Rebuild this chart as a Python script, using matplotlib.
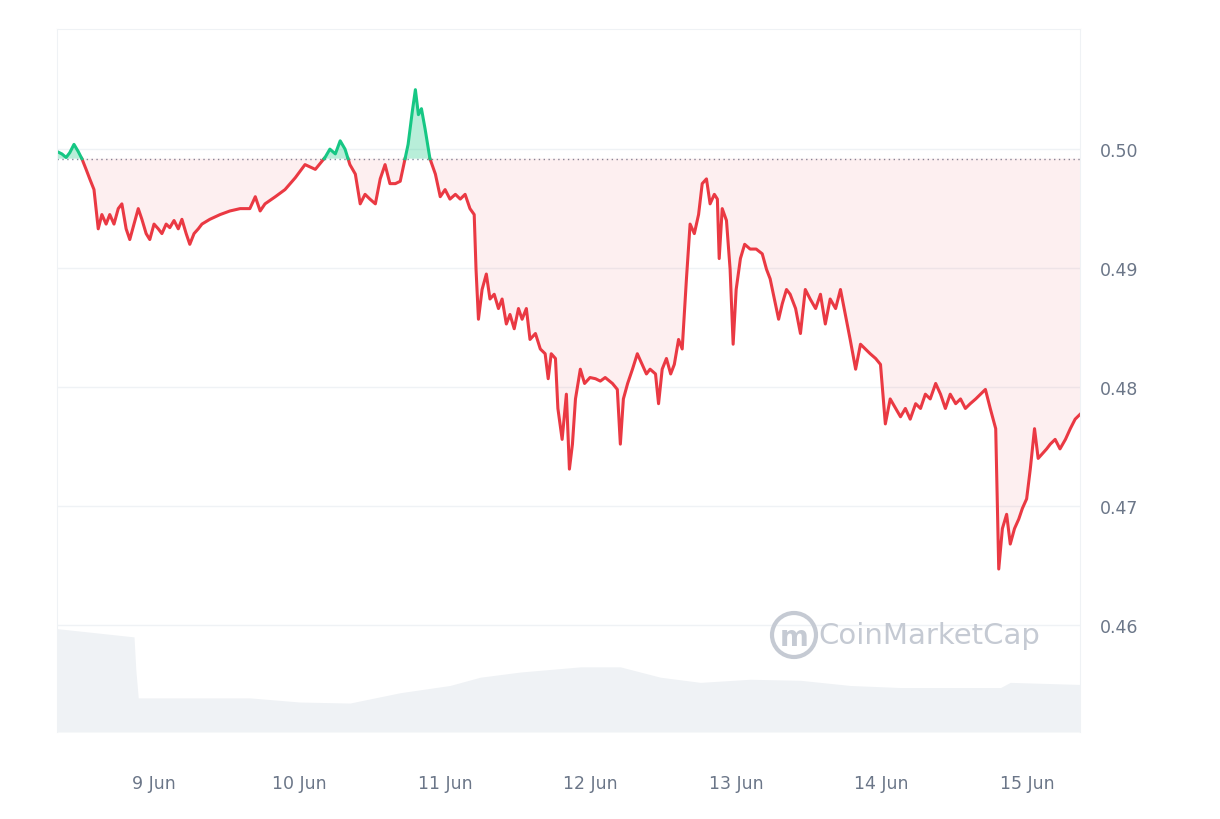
import matplotlib
matplotlib.use("Agg")
import matplotlib.pyplot as plt
from matplotlib.patches import Ellipse
import numpy as np

# hours since 8 Jun 08:00
hours = [0,0.8,1.5,2.1,2.8,3.5,4.1,4.8,5.4,6.1,6.8,7.4,8.1,8.7,9.4,10.1,10.7,11.4,12.0,12.7,13.4,14.0,14.7,15.3,16.0,16.7,17.3,18.0,18.6,19.3,20.0,20.6,21.3,21.9,22.6,23.3,23.9,25.2,26.9,28.5,30.2,31.8,32.7,33.5,34.3,36.0,37.6,39.3,40.9,42.6,44.2,45.0,45.9,46.7,47.5,48.3,49.2,50.0,50.8,51.6,52.5,53.3,54.1,54.9,55.8,56.6,57.4,57.9,58.6,59.1,59.6,60.1,60.7,61.5,62.4,63.2,64.0,64.8,65.7,66.5,67.3,68.1,68.8,69.1,69.5,70.1,70.8,71.4,72.1,72.8,73.4,74.1,74.7,75.4,76.1,76.7,77.4,78.0,78.9,79.7,80.5,81.0,81.5,82.2,82.6,83.3,84.0,84.5,85.0,85.5,86.3,87.0,87.9,88.8,89.6,90.4,91.6,92.4,92.9,93.4,94.1,94.9,95.7,96.5,97.2,97.8,98.7,99.2,99.8,100.5,101.2,101.8,102.5,103.1,103.8,104.4,105.1,105.8,106.4,107.1,107.7,108.4,108.9,109.2,109.7,110.4,111.0,111.5,112.0,112.7,113.4,114.3,115.3,116.3,117.0,117.6,118.3,119.0,119.6,120.3,120.9,121.8,122.6,123.4,124.2,125.1,125.9,126.7,127.5,128.4,129.2,130.0,130.8,131.7,132.5,133.3,134.1,135.0,135.8,136.6,137.4,138.3,139.1,139.9,140.7,141.6,142.4,143.2,144.0,144.9,145.7,146.5,147.3,148.2,149.0,149.8,150.6,151.5,152.3,153.1,153.9,154.8,155.3,155.9,156.6,157.2,157.9,158.6,159.2,159.9,160.5,161.2,161.8,162.5,163.2,163.8,164.6,165.4,166.3,167.1,167.9,168.7]
prices = [.4998,.4996,.4993,.4997,.5004,.4998,.4992,.4983,.4975,.4966,.4933,.4945,.4937,.4945,.4937,.4950,.4954,.4933,.4924,.4937,.4950,.4941,.4929,.4924,.4937,.4933,.4929,.4937,.4934,.4940,.4933,.4941,.4929,.4920,.4929,.4933,.4937,.4941,.4945,.4948,.4950,.4950,.4960,.4948,.4954,.4960,.4966,.4976,.4987,.4983,.4993,.5000,.4996,.5007,.5000,.4987,.4979,.4954,.4962,.4958,.4954,.4975,.4987,.4971,.4971,.4973,.4992,.5004,.5032,.5050,.5029,.5034,.5017,.4992,.4979,.4960,.4966,.4958,.4962,.4958,.4962,.4950,.4945,.4899,.4857,.4882,.4895,.4874,.4878,.4866,.4874,.4853,.4861,.4849,.4866,.4857,.4866,.4840,.4845,.4832,.4828,.4807,.4828,.4824,.4782,.4756,.4794,.4731,.4752,.4790,.4815,.4803,.4808,.4807,.4805,.4808,.4803,.4798,.4752,.4790,.4803,.4815,.4828,.4819,.4811,.4815,.4811,.4786,.4815,.4824,.4811,.4819,.4840,.4832,.4891,.4937,.4929,.4945,.4971,.4975,.4954,.4962,.4958,.4908,.4950,.4940,.4899,.4836,.4882,.4908,.4920,.4916,.4916,.4912,.4899,.4891,.4874,.4857,.4870,.4882,.4878,.4866,.4845,.4882,.4874,.4866,.4878,.4853,.4874,.4866,.4882,.4861,.4840,.4815,.4836,.4832,.4828,.4824,.4819,.4769,.4790,.4782,.4775,.4782,.4773,.4786,.4782,.4794,.4790,.4803,.4794,.4782,.4794,.4786,.4790,.4782,.4786,.4790,.4794,.4798,.4782,.4765,.4647,.4681,.4693,.4668,.4681,.4689,.4698,.4706,.4731,.4765,.4740,.4744,.4748,.4752,.4756,.4748,.4756,.4765,.4773,.4777]
n = min(len(hours), len(prices))
hours = np.array(hours[:n]); prices = np.array(prices[:n])
baseline = 0.4992

vol_hours = [0, 12.7, 13.0, 13.4, 31.8, 40.0, 48.3, 56.6, 64.8, 69.8, 76.4, 86.3, 92.9, 99.5, 106.1, 114.3, 122.6, 130.8, 139.1, 155.6, 157.2, 168.7]
vol_vals = [100, 92, 60, 33, 33, 29, 28, 38, 45, 53, 58, 63, 63, 53, 48, 51, 50, 45, 43, 43, 48, 46]

tick_hours = [16, 40, 64, 88, 112, 136, 160]
tick_labels = ["9 Jun", "10 Jun", "11 Jun", "12 Jun", "13 Jun", "14 Jun", "15 Jun"]
yticks = [0.46, 0.47, 0.48, 0.49, 0.50]

RED = "#ea3943"; GREEN = "#16c784"; GREY = "#6b7688"

fig = plt.figure(figsize=(12.2, 8.2), dpi=100)
rect = [57/1220, 87/820, 1023/1220, 703/820]
axv = fig.add_axes(rect)
axv.fill_between(vol_hours, 0, vol_vals, color="#eff2f5", lw=0)
axv.set_ylim(0, 680)
axv.set_xlim(0, 168.7)
axv.axis("off")

ax = fig.add_axes(rect)
ax.patch.set_alpha(0)
ax.set_xlim(0, 168.7)
ax.set_ylim(0.4510, 0.5101)
for y in yticks:
    ax.axhline(y, color="#eff2f5", lw=1, zorder=0)
ax.axhline(baseline, color="#808a9d", lw=1, ls=(0, (1, 2.5)), zorder=1)

ax.fill_between(hours, baseline, prices, where=prices < baseline, interpolate=True, color=RED, alpha=0.08, lw=0)
ax.fill_between(hours, baseline, prices, where=prices >= baseline, interpolate=True, color=GREEN, alpha=0.3, lw=0)
xs, ys = [hours[0]], [prices[0]]
for i in range(1, n):
    p0, p1 = prices[i-1], prices[i]
    if (p0 - baseline) * (p1 - baseline) < 0:
        t = (baseline - p0) / (p1 - p0)
        xs.append(hours[i-1] + t * (hours[i] - hours[i-1])); ys.append(baseline)
    xs.append(hours[i]); ys.append(p1)
xs = np.array(xs); ys = np.array(ys)
ax.plot(xs, np.where(ys <= baseline + 1e-9, ys, np.nan), color=RED, lw=2.2, solid_joinstyle="round")
ax.plot(xs, np.where(ys >= baseline - 1e-9, ys, np.nan), color=GREEN, lw=2.2, solid_joinstyle="round")

ax.yaxis.tick_right()
ax.set_yticks(yticks)
ax.set_yticklabels([f"{v:.2f}" for v in yticks])
ax.set_xticks(tick_hours)
ax.set_xticklabels(tick_labels)
ax.tick_params(length=0, labelsize=12.5, colors=GREY, pad=14)
ax.tick_params(axis="x", pad=30)
for s in ["left", "top", "right"]:
    ax.spines[s].set_color("#eff2f5")
ax.spines["bottom"].set_visible(False)

fig.text(818/1220, 1 - 636/820, "CoinMarketCap", fontsize=21, color="#c5cad3", ha="left", va="center")
fig.add_artist(Ellipse((794/1220, 1 - 636/820), 44/1220, 44/820, transform=fig.transFigure,
                       fill=False, ec="#c5cad3", lw=3))
fig.text(794/1220, 1 - 638/820, "m", fontsize=20, color="#c5cad3", ha="center", va="center", weight="bold")

fig.savefig("out.png", dpi=100)
